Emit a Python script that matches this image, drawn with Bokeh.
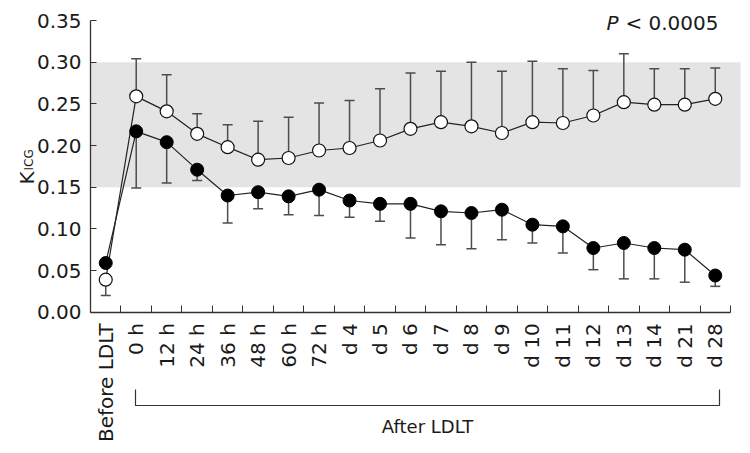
import math
from bokeh.plotting import figure
from bokeh.models import FixedTicker, BoxAnnotation, Label, NumeralTickFormatter, Range1d, ColumnDataSource
from bokeh.embed import file_html
from bokeh.resources import INLINE

categories = ["Before LDLT", "0 h", "12 h", "24 h", "36 h", "48 h", "60 h", "72 h",
              "d 4", "d 5", "d 6", "d 7", "d 8", "d 9", "d 10", "d 11", "d 12",
              "d 13", "d 14", "d 21", "d 28"]

open_mean = [0.039, 0.259, 0.241, 0.214, 0.198, 0.183, 0.185, 0.194, 0.197, 0.206, 0.220,
             0.228, 0.223, 0.215, 0.228, 0.227, 0.236, 0.252, 0.249, 0.249, 0.256]
open_whisker = [0.020, 0.304, 0.285, 0.238, 0.225, 0.229, 0.234, 0.251, 0.254, 0.268, 0.287,
                0.289, 0.300, 0.289, 0.301, 0.292, 0.290, 0.310, 0.292, 0.292, 0.293]
filled_mean = [0.059, 0.217, 0.204, 0.171, 0.140, 0.144, 0.139, 0.147, 0.134, 0.130, 0.130,
               0.121, 0.119, 0.123, 0.105, 0.103, 0.077, 0.083, 0.077, 0.075, 0.044]
filled_whisker = [0.059, 0.149, 0.155, 0.158, 0.107, 0.124, 0.117, 0.116, 0.114, 0.109, 0.089,
                  0.081, 0.076, 0.087, 0.083, 0.071, 0.051, 0.040, 0.040, 0.036, 0.031]

y_ticks = [0.00, 0.05, 0.10, 0.15, 0.20, 0.25, 0.30, 0.35]
normal_low, normal_high = 0.15, 0.30
p_text = "< 0.0005"
group_label = "After LDLT"

FONT = "DejaVu Sans"
TXT = "#1a1a1a"
xs = list(range(len(categories)))

W, H = 742, 445
X0_PX, XSTEP = 90, 30.476        # pixel of x=-0.5, pixels per category
Y0_PX, YSCALE = 20, 833.4        # pixel of y=0.35, pixels per unit
PX = 1 / XSTEP


def px2x(px):
    return -0.5 + (px - X0_PX) / XSTEP


def py2y(py):
    return 0.35 - (py - Y0_PX) / YSCALE


p = figure(width=W, height=H,
           x_range=Range1d(px2x(0), px2x(W)), y_range=Range1d(py2y(H), py2y(0)),
           output_backend="svg", toolbar_location=None,
           min_border_left=0, min_border_right=0, min_border_top=0, min_border_bottom=0)
p.outline_line_color = None
p.grid.visible = False
p.background_fill_color = "white"

p.add_layout(BoxAnnotation(left=-0.5, right=px2x(740), bottom=normal_low, top=normal_high,
                           fill_color="#e4e4e4", fill_alpha=1.0, line_color=None, level="underlay"))

# y axis
ya = p.yaxis[0]
ya.fixed_location = -0.5
ya.bounds = (0, 0.35)
ya.ticker = FixedTicker(ticks=y_ticks)
ya.formatter = NumeralTickFormatter(format="0.00")
ya.major_tick_in = 6
ya.major_tick_out = 0
ya.minor_tick_in = 0
ya.minor_tick_out = 0
ya.axis_line_color = "#333333"
ya.major_tick_line_color = "#333333"
ya.axis_line_width = 1.3
ya.major_label_text_font = FONT
ya.major_label_text_font_size = "20px"
ya.major_label_text_color = TXT
ya.major_label_standoff = 9

# x axis
xa = p.xaxis[0]
xa.fixed_location = 0
xa.bounds = (-0.5, 20.5)
xa.ticker = FixedTicker(ticks=xs, minor_ticks=[i + 0.5 for i in xs])
xa.major_label_overrides = {i: c for i, c in enumerate(categories)}
xa.major_label_orientation = math.pi / 2
xa.major_tick_in = 0
xa.major_tick_out = 0
xa.minor_tick_in = 7
xa.minor_tick_out = 0
xa.axis_line_color = "#333333"
xa.minor_tick_line_color = "#333333"
xa.axis_line_width = 1.3
xa.major_label_text_font = FONT
xa.major_label_text_font_size = "20px"
xa.major_label_text_color = TXT
xa.major_label_standoff = 11

src = ColumnDataSource(dict(x=xs, om=open_mean, ow=open_whisker, fm=filled_mean, fw=filled_whisker,
                            cl=[x - 5 * PX for x in xs], cr=[x + 5 * PX for x in xs]))

# error bars
for m, w in (("om", "ow"), ("fm", "fw")):
    p.segment(x0="x", y0=m, x1="x", y1=w, source=src, line_color="#4d4d4d", line_width=1.5)
    p.segment(x0="cl", y0=w, x1="cr", y1=w, source=src, line_color="#4d4d4d", line_width=1.5)

# lines
p.line("x", "fm", source=src, line_color="#222222", line_width=1.2)
p.line("x", "om", source=src, line_color="#222222", line_width=1.2)

# markers
p.scatter("x", "fm", source=src, marker="circle", size=13, fill_color="black", line_color="black")
p.scatter("x", "om", source=src, marker="circle", size=13, fill_color="white", line_color="#111111", line_width=1.2)

# bracket for "After LDLT"
bx0, bx1 = px2x(135), px2x(719)
p.line(x=[bx0, bx0, bx1, bx1], y=[py2y(389), py2y(405), py2y(405), py2y(389)],
       line_color="#333333", line_width=1.2)
p.add_layout(Label(x=px2x(427), y=py2y(426), text=group_label, text_align="center",
                   text_baseline="middle", text_font=FONT, text_font_size="18px", text_color=TXT))

# P value
p.add_layout(Label(x=px2x(606), y=py2y(22), text="P", text_align="left", text_baseline="middle",
                   text_font=FONT, text_font_size="20px", text_font_style="italic", text_color=TXT))
p.add_layout(Label(x=px2x(718), y=py2y(22), text=p_text, text_align="right", text_baseline="middle",
                   text_font=FONT, text_font_size="20px", text_color=TXT))

# y axis title K_ICG
p.add_layout(Label(x=px2x(26), y=py2y(184), text="K", angle=math.pi / 2, text_align="left",
                   text_baseline="alphabetic", text_font=FONT, text_font_size="20px", text_color=TXT))
p.add_layout(Label(x=px2x(28), y=py2y(170), text="ICG", angle=math.pi / 2, text_align="left",
                   text_baseline="alphabetic", text_font=FONT, text_font_size="12px", text_color=TXT))

open("out.html", "w").write(file_html(p, INLINE))
